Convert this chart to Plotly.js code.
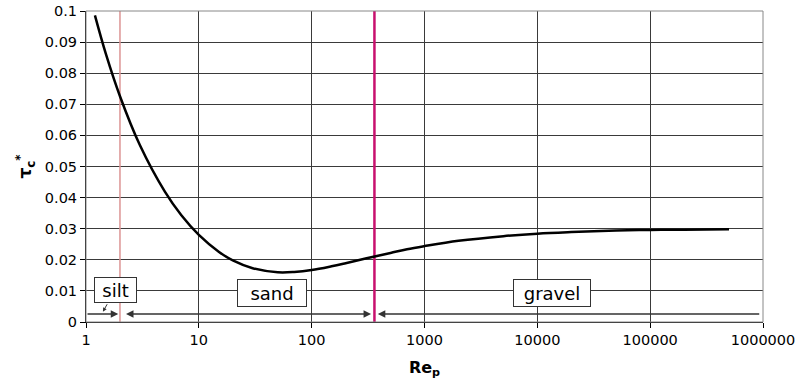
<!DOCTYPE html>
<html>
<head>
<meta charset="utf-8">
<script src="https://cdn.plot.ly/plotly-3.0.1.min.js"></script>
<style>html,body{margin:0;padding:0;background:#fff;}#chart{width:795px;height:382px;}</style>
</head>
<body>
<div id="chart"></div>
<script>
// Shields curve
const rep = [1.2, 1.5, 2, 3, 5, 7, 10, 15, 20, 30, 50, 70, 100, 150, 200, 300, 500, 700, 1000, 2000, 5000, 10000, 20000, 50000, 100000, 200000, 500000];
const tauc = [0.0986, 0.0862, 0.0726, 0.0569, 0.0419, 0.0343, 0.0280, 0.0226, 0.0198, 0.0173, 0.0160, 0.0161, 0.0167, 0.0179, 0.0189, 0.0204, 0.0222, 0.0234, 0.0244, 0.0261, 0.0276, 0.0284, 0.0289, 0.0294, 0.0296, 0.0297, 0.0298];
// class boundaries (Re_p)
const siltSand = 2;
const sandGravel = 360;
const classLabels = ['silt', 'sand', 'gravel'];
const xTickVals = [1, 10, 100, 1000, 10000, 100000, 1000000];
const xTickText = ['1', '10', '100', '1000', '10000', '100000', '1000000'];
const yTickVals = [0, 0.01, 0.02, 0.03, 0.04, 0.05, 0.06, 0.07, 0.08, 0.09, 0.1];
const yTickText = ['0', '0.01', '0.02', '0.03', '0.04', '0.05', '0.06', '0.07', '0.08', '0.09', '0.1'];
const xMin = 1, xMax = 1000000, yMin = 0, yMax = 0.1;
const arrowY = 0.0026;

const L = Math.log10;
const traces = [
  {x: [siltSand, siltSand], y: [yMin, yMax], mode: 'lines', line: {color: '#dc9494', width: 1.5}, hoverinfo: 'skip'},
  {x: [sandGravel, sandGravel], y: [yMin, yMax], mode: 'lines', line: {color: '#c8106e', width: 2.5}, hoverinfo: 'skip'},
  {x: rep, y: tauc, mode: 'lines', line: {color: '#000', width: 2.5, shape: 'spline'}, hoverinfo: 'skip'}
];

const FAM = 'DejaVu Sans, Liberation Sans, Arial, sans-serif';
const font = {family: FAM, size: 14.5, color: '#000'};
const arrowBase = {xref: 'x', yref: 'y', axref: 'x', ayref: 'y', text: '', showarrow: true,
  arrowcolor: '#333', arrowwidth: 1.5, arrowhead: 2, arrowsize: 1};
const boxBase = {xref: 'x', yref: 'y', showarrow: false, bgcolor: '#fff', bordercolor: '#333', borderwidth: 1,
  borderpad: 2, font: {family: FAM, size: 18, color: '#000'}, height: 22};

const annotations = [
  // silt arrow: left edge -> silt/sand boundary
  Object.assign({}, arrowBase, {x: L(siltSand) - 0.015, y: arrowY, ax: L(xMin), ay: arrowY}),
  // sand arrow: double headed between boundaries
  Object.assign({}, arrowBase, {x: L(sandGravel) - 0.03, y: arrowY, ax: L(siltSand) + 0.04, ay: arrowY, arrowside: 'end+start'}),
  // gravel arrow: right edge -> sand/gravel boundary
  Object.assign({}, arrowBase, {x: L(sandGravel) + 0.03, y: arrowY, ax: L(xMax) - 0.02, ay: arrowY}),
  // silt leader
  Object.assign({}, arrowBase, {x: 0.15, y: 0.0033, ax: 0.195, ay: 0.0062, arrowwidth: 1, arrowhead: 2, arrowsize: 0.8}),
  Object.assign({}, boxBase, {x: 0.257, y: 0.0103, text: classLabels[0], width: 37, height: 20}),
  Object.assign({}, boxBase, {x: 1.649, y: 0.0093, text: classLabels[1], width: 64}),
  Object.assign({}, boxBase, {x: 4.13, y: 0.0093, text: classLabels[2], width: 72})
];

const layout = {
  width: 795, height: 382,
  margin: {l: 86, r: 32, t: 11, b: 60},
  paper_bgcolor: '#fff', plot_bgcolor: '#fff',
  showlegend: false,
  font: font,
  xaxis: {
    type: 'log', range: [L(xMin), L(xMax)], tickvals: xTickVals, ticktext: xTickText,
    showgrid: true, gridcolor: '#3a3a3a', gridwidth: 1, zeroline: false,
    showline: true, linecolor: '#000', linewidth: 1, mirror: false,
    ticks: 'outside', ticklen: 5, tickcolor: '#000', tickfont: font,
    ticklabeloverflow: 'allow',
    title: {text: '<b>Re<sub>p</sub></b>', font: {family: FAM, size: 16, color: '#000'}, standoff: 14},
    automargin: false
  },
  yaxis: {
    range: [yMin, yMax], tickvals: yTickVals, ticktext: yTickText,
    showgrid: true, gridcolor: '#3a3a3a', gridwidth: 1, zeroline: false,
    showline: true, linecolor: '#000', linewidth: 1,
    ticks: 'outside', ticklen: 5, tickcolor: '#000', tickfont: font,
    ticklabeloverflow: 'allow',
    title: {text: '<b>τ<sub>c</sub><sup>*</sup></b>', font: {family: FAM, size: 17, color: '#000'}, standoff: 8},
    automargin: false
  },
  shapes: [
    {type: 'rect', xref: 'paper', yref: 'paper', x0: 0, x1: 1, y0: 0, y1: 1, line: {color: '#888', width: 1}, layer: 'above'}
  ],
  annotations: annotations
};

Plotly.newPlot('chart', traces, layout, {displayModeBar: false, staticPlot: true});
</script>
</body>
</html>
